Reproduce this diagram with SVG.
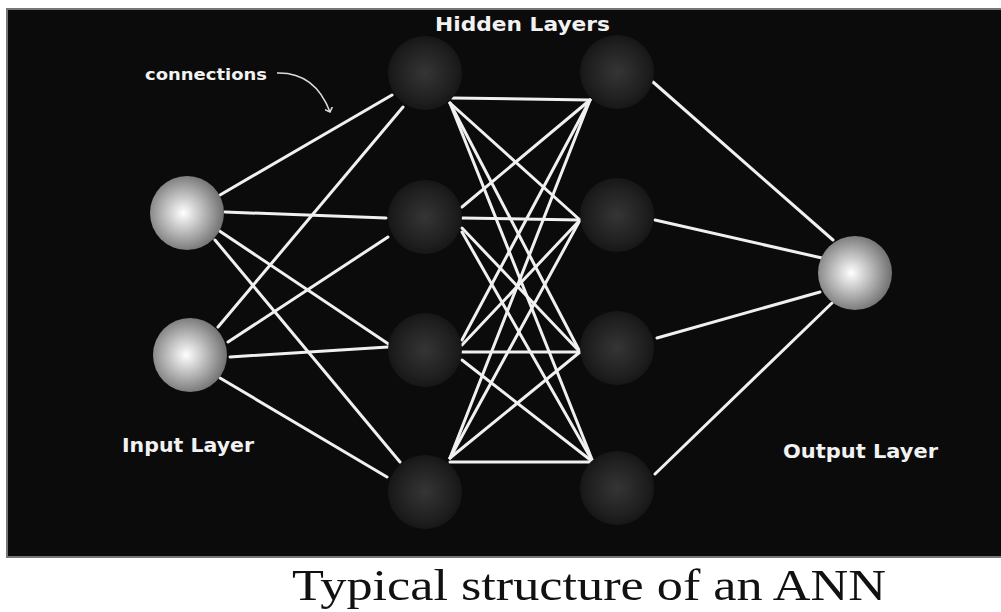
<svg xmlns="http://www.w3.org/2000/svg" width="1001" height="612" viewBox="0 0 1001 612">
<style>
.c{stroke:#f0f0f0;stroke-width:3;fill:none;stroke-linecap:round}
.lbl{fill:#f2f2f2;font-family:"DejaVu Sans","Liberation Sans",sans-serif;font-weight:bold}
</style>
<defs>
<radialGradient id="lite" cx="0.45" cy="0.5" r="0.55">
<stop offset="0" stop-color="#ffffff"/>
<stop offset="0.5" stop-color="#b8b8b8"/>
<stop offset="1" stop-color="#707070"/>
</radialGradient>
<radialGradient id="dark" cx="0.5" cy="0.5" r="0.55">
<stop offset="0" stop-color="#353535"/>
<stop offset="0.7" stop-color="#1f1f1f"/>
<stop offset="1" stop-color="#131313"/>
</radialGradient>
<marker id="ah" markerWidth="8" markerHeight="8" refX="4" refY="4" orient="auto" markerUnits="userSpaceOnUse">
<path d="M0,0 L4,4 L0,8" stroke="#ddd" stroke-width="1.5" fill="none"/>
</marker>
</defs>
<rect width="1001" height="612" fill="#fff"/>
<rect x="7" y="9" width="996" height="548" fill="#0b0b0b" stroke="#777" stroke-width="2"/>
<g id="connectors">
<line class="c" x1="220" y1="195" x2="392" y2="95"/>
<line class="c" x1="225" y1="212" x2="386" y2="218"/>
<line class="c" x1="218" y1="230" x2="390" y2="345"/>
<line class="c" x1="215" y1="240" x2="400" y2="462"/>
<line class="c" x1="218" y1="327" x2="403" y2="107"/>
<line class="c" x1="228" y1="342" x2="388" y2="237"/>
<line class="c" x1="230" y1="357" x2="388" y2="347"/>
<line class="c" x1="220" y1="378" x2="387" y2="477"/>
<line class="c" x1="452" y1="98" x2="590" y2="100"/>
<line class="c" x1="450" y1="103" x2="580" y2="220"/>
<line class="c" x1="450" y1="103" x2="580" y2="352"/>
<line class="c" x1="450" y1="103" x2="593" y2="462"/>
<line class="c" x1="462" y1="207" x2="590" y2="100"/>
<line class="c" x1="462" y1="218" x2="580" y2="220"/>
<line class="c" x1="462" y1="228" x2="580" y2="352"/>
<line class="c" x1="462" y1="232" x2="593" y2="462"/>
<line class="c" x1="462" y1="340" x2="590" y2="100"/>
<line class="c" x1="462" y1="345" x2="580" y2="220"/>
<line class="c" x1="462" y1="352" x2="580" y2="352"/>
<line class="c" x1="462" y1="360" x2="593" y2="462"/>
<line class="c" x1="450" y1="458" x2="590" y2="100"/>
<line class="c" x1="450" y1="458" x2="580" y2="220"/>
<line class="c" x1="450" y1="458" x2="580" y2="352"/>
<line class="c" x1="450" y1="462" x2="593" y2="462"/>
<line class="c" x1="653" y1="82" x2="833" y2="240"/>
<line class="c" x1="655" y1="220" x2="822" y2="258"/>
<line class="c" x1="657" y1="338" x2="820" y2="292"/>
<line class="c" x1="655" y1="474" x2="832" y2="303"/>
<path d="M277,73 Q315,72 330,112" stroke="#ddd" stroke-width="1.5" fill="none" marker-end="url(#ah)"/>
</g>
<g id="in1"><circle cx="187" cy="213" r="37" fill="url(#lite)"/></g>
<g id="in2"><circle cx="190" cy="355" r="37" fill="url(#lite)"/></g>
<g id="h1a"><circle cx="425" cy="73" r="37" fill="url(#dark)"/></g>
<g id="h1b"><circle cx="425" cy="217" r="37" fill="url(#dark)"/></g>
<g id="h1c"><circle cx="425" cy="350" r="37" fill="url(#dark)"/></g>
<g id="h1d"><circle cx="425" cy="492" r="37" fill="url(#dark)"/></g>
<g id="h2a"><circle cx="617" cy="72" r="37" fill="url(#dark)"/></g>
<g id="h2b"><circle cx="617" cy="215" r="37" fill="url(#dark)"/></g>
<g id="h2c"><circle cx="617" cy="348" r="37" fill="url(#dark)"/></g>
<g id="h2d"><circle cx="617" cy="488" r="37" fill="url(#dark)"/></g>
<g id="out"><circle cx="855" cy="273" r="37" fill="url(#lite)"/></g>
<g id="labels">
<text class="lbl" x="435" y="31" font-size="20" textLength="175" lengthAdjust="spacingAndGlyphs">Hidden Layers</text>
<text class="lbl" x="145" y="80" font-size="15" textLength="122" lengthAdjust="spacingAndGlyphs">connections</text>
<text class="lbl" x="122" y="452" font-size="19" textLength="132" lengthAdjust="spacingAndGlyphs">Input Layer</text>
<text class="lbl" x="783" y="458" font-size="19" textLength="155" lengthAdjust="spacingAndGlyphs">Output Layer</text>
</g>
<text x="292" y="600" font-size="45" fill="#111" font-family="Liberation Serif,serif" textLength="594" lengthAdjust="spacingAndGlyphs">Typical structure of an ANN</text>
</svg>
